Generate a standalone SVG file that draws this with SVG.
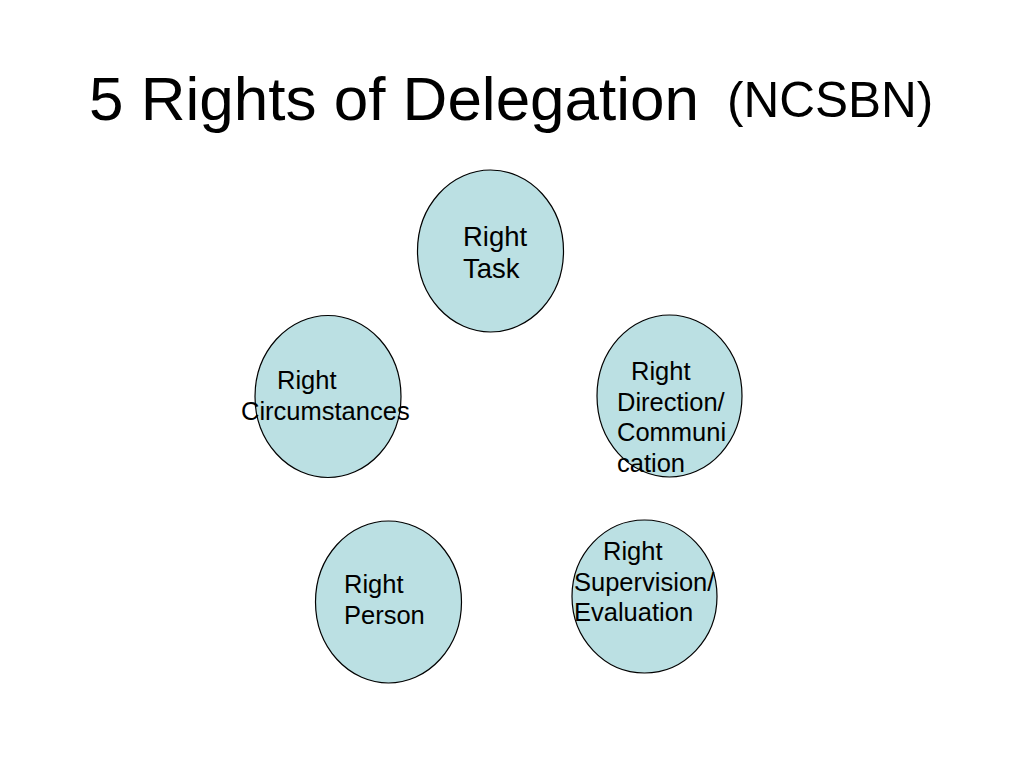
<svg xmlns="http://www.w3.org/2000/svg" width="1024" height="768" viewBox="0 0 1024 768">
<style>
.node{fill:#BBE0E3;stroke:#000;stroke-width:1.2}
.lbl{font-family:"Liberation Sans",Arial,sans-serif;font-size:25.5px;fill:#000}
.title{font-family:"Liberation Sans",Arial,sans-serif;fill:#000}
</style>
<rect width="1024" height="768" fill="#fff"/>
<text class="title" x="89" y="120" font-size="62">5 Rights of Delegation</text>
<text class="title" x="727" y="117" font-size="49.5">(NCSBN)</text>
<g id="connectors"></g>
<g id="node-task">
<ellipse class="node" cx="490.5" cy="251" rx="73" ry="81"/>
<text class="lbl" x="463" y="246" style="font-size:27.5px">Right</text>
<text class="lbl" x="463" y="278" style="font-size:27.5px">Task</text>
</g>
<g id="node-circumstances">
<ellipse class="node" cx="328" cy="396.5" rx="73" ry="81"/>
<text class="lbl" x="277" y="389">Right</text>
<text class="lbl" x="241" y="420">Circumstances</text>
</g>
<g id="node-direction">
<ellipse class="node" cx="669.5" cy="396" rx="72.5" ry="81"/>
<text class="lbl" x="631" y="380">Right</text>
<text class="lbl" x="617" y="410.5">Direction/</text>
<text class="lbl" x="617" y="441">Communi</text>
<text class="lbl" x="617" y="471.5">cation</text>
</g>
<g id="node-person">
<ellipse class="node" cx="388.5" cy="602" rx="73" ry="81"/>
<text class="lbl" x="344" y="593">Right</text>
<text class="lbl" x="344" y="624">Person</text>
</g>
<g id="node-supervision">
<ellipse class="node" cx="644.5" cy="596.5" rx="72.5" ry="76.5"/>
<text class="lbl" x="603" y="560">Right</text>
<text class="lbl" x="574" y="590.5">Supervision/</text>
<text class="lbl" x="574" y="621">Evaluation</text>
</g>
</svg>
